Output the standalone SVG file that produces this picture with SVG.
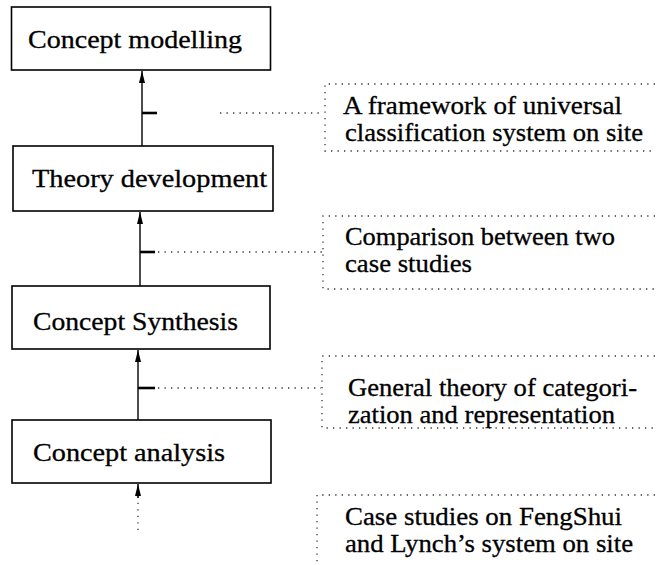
<svg xmlns="http://www.w3.org/2000/svg" width="664" height="565" viewBox="0 0 664 565">
  <defs>
    <style>
      .box { fill: #fff; stroke: #000; stroke-width: 1.6; }
      .t { font-family: 'Liberation Serif', 'Times New Roman', 'DejaVu Serif', serif; font-size: 25px; fill: #000; stroke: #000; stroke-width: 0.3; }
      .flow { stroke: #000; stroke-width: 1.4; fill: none; }
      .tick { stroke: #000; stroke-width: 2.6; fill: none; }
      .dots { stroke: #333; stroke-width: 1.3; fill: none; stroke-dasharray: 1.3 5.2; }
    </style>
    <marker id="arrow" viewBox="0 0 12 6" refX="12" refY="3" markerWidth="12" markerHeight="6" markerUnits="userSpaceOnUse" orient="auto">
      <path d="M0,0 L12,3 L0,6 z" fill="#000"/>
    </marker>
  </defs>

  <rect width="664" height="565" fill="#fff"/>

  <!-- process boxes -->
  <g id="concept-modelling">
    <rect class="box" x="11.5" y="7" width="259" height="63"/>
    <text class="t" x="28" y="48" textLength="214" lengthAdjust="spacingAndGlyphs">Concept modelling</text>
  </g>
  <g id="theory-development">
    <rect class="box" x="13" y="146" width="260" height="65"/>
    <text class="t" x="32" y="187" textLength="235" lengthAdjust="spacingAndGlyphs">Theory development</text>
  </g>
  <g id="concept-synthesis">
    <rect class="box" x="12" y="286" width="258" height="63"/>
    <text class="t" x="33" y="330" textLength="205" lengthAdjust="spacingAndGlyphs">Concept Synthesis</text>
  </g>
  <g id="concept-analysis">
    <rect class="box" x="12" y="420" width="259" height="63"/>
    <text class="t" x="33" y="461" textLength="192" lengthAdjust="spacingAndGlyphs">Concept analysis</text>
  </g>

  <!-- annotation boxes (dotted, open on the right) -->
  <g id="note-framework">
    <path class="dots" d="M655,84 H325 V151 H655"/>
    <text class="t" x="343" y="114" textLength="279" lengthAdjust="spacingAndGlyphs">A framework of universal</text>
    <text class="t" x="345" y="141" textLength="298" lengthAdjust="spacingAndGlyphs">classification system on site</text>
  </g>
  <g id="note-comparison">
    <path class="dots" d="M655,216 H323 V289 H655"/>
    <text class="t" x="345" y="245" textLength="270" lengthAdjust="spacingAndGlyphs">Comparison between two</text>
    <text class="t" x="345" y="272" textLength="127" lengthAdjust="spacingAndGlyphs">case studies</text>
  </g>
  <g id="note-general-theory">
    <path class="dots" d="M655,356 H322 V428 H655"/>
    <text class="t" x="348" y="396" textLength="289" lengthAdjust="spacingAndGlyphs">General theory of categori-</text>
    <text class="t" x="348" y="423" textLength="267" lengthAdjust="spacingAndGlyphs">zation and representation</text>
  </g>
  <g id="note-case-studies">
    <path class="dots" d="M655,495 H317 V565"/>
    <text class="t" x="345" y="525" textLength="277" lengthAdjust="spacingAndGlyphs">Case studies on FengShui</text>
    <text class="t" x="345" y="552" textLength="288" lengthAdjust="spacingAndGlyphs">and Lynch’s system on site</text>
  </g>

  <!-- connectors -->
  <g id="connectors">
    <line class="flow" x1="142" y1="146" x2="142" y2="71" marker-end="url(#arrow)"/>
    <line class="tick" x1="142" y1="113" x2="157" y2="113"/>
    <line class="dots" x1="220" y1="113" x2="324" y2="113"/>

    <line class="flow" x1="140" y1="286" x2="140" y2="212" marker-end="url(#arrow)"/>
    <line class="tick" x1="140" y1="252" x2="155" y2="252"/>
    <line class="dots" x1="158" y1="252" x2="322" y2="252"/>

    <line class="flow" x1="138" y1="420" x2="138" y2="350" marker-end="url(#arrow)"/>
    <line class="tick" x1="138" y1="388" x2="155" y2="388"/>
    <line class="dots" x1="158" y1="388" x2="321" y2="388"/>

    <line class="dots" x1="138" y1="530" x2="138" y2="495"/>
    <line class="flow" x1="138" y1="498" x2="138" y2="484" marker-end="url(#arrow)"/>
  </g>
</svg>
